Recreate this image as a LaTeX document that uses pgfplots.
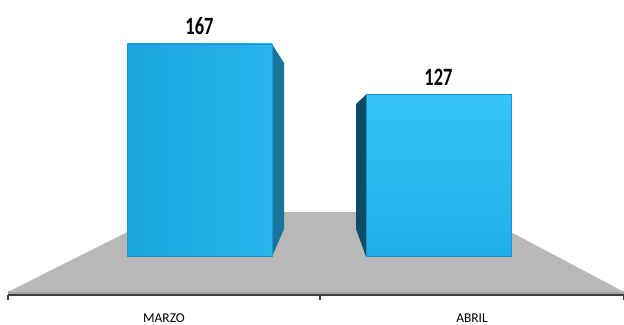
\documentclass[border=0pt]{standalone}
\usepackage{fontspec}
\setmainfont{Carlito}
\usepackage{pgfplots}
\pgfplotsset{compat=1.18}
\definecolor{floorgray}{HTML}{B8B8B8}
\definecolor{flooredge}{HTML}{A4A4A4}
\definecolor{axgray}{HTML}{404040}
\definecolor{sideA}{HTML}{15759C}
\definecolor{sideB}{HTML}{0E4C66}
\definecolor{barA1}{HTML}{1BA5DD}
\definecolor{barA2}{HTML}{25B5EB}
\definecolor{barB1}{HTML}{34C4F8}
\definecolor{barB2}{HTML}{1FAEE6}
\definecolor{baredge}{HTML}{1A95C8}
\begin{document}
\begin{tikzpicture}
\begin{axis}[
  scale only axis, width=616bp, height=295bp,
  xmin=8, xmax=624, ymin=-30.7, ymax=201.6,
  axis x line*=bottom, axis y line=none,
  x axis line style={line width=2.2bp, color=axgray},
  xtick={164,472}, xticklabels={MARZO,ABRIL},
  major tick length=0pt,
  minor xtick={8,320,624}, minor tick length=4.5bp,
  tick align=outside,
  minor tick style={line width=1.6bp, color=axgray},
  xticklabel style={font=\fontsize{13.5}{15}\selectfont, anchor=north, inner sep=0pt, yshift=-18.5bp},
  clip=false,
  /pgf/number format/assume math mode=true,
  nodes near coords={\scalebox{1}[1.35]{\bfseries\pgfmathprintnumber{\pgfplotspointmeta}}},
  nodes near coords style={font=\fontsize{18.5}{20}\selectfont\bfseries, anchor=south, inner sep=0pt, yshift=9bp, color=black},
]
% floor
\addplot[fill=flooredge, draw=none, nodes near coords={}] coordinates {(8,-29.9) (624,-29.9) (624,-27.6) (8,-27.6)} -- cycle;
\addplot[fill=floorgray, draw=none, nodes near coords={}] coordinates {(8,-28.3) (624,-28.3) (473,34.6) (167,34.6)} -- cycle;
% side faces
\addplot[fill=sideA, draw=none, nodes near coords={}] coordinates {(272,167) (284,152) (284,21.3) (272,-0.5)} -- cycle;
\addplot[fill=sideB, draw=none, nodes near coords={}] coordinates {(366,127) (356,119.7) (356,21.3) (366,-0.5)} -- cycle;
% front faces
\addplot[ybar, bar width=145, bar shift=0pt, left color=barA1, right color=barA2, draw=baredge, line width=0.6bp] coordinates {(199.5,167)};
\addplot[ybar, bar width=145, bar shift=0pt, top color=barB1, bottom color=barB2, draw=baredge, line width=0.6bp] coordinates {(438.5,127)};
\end{axis}
\pgfresetboundingbox
\path (current axis.south west) ++(-8bp,-30bp) rectangle (current axis.north east);
\end{tikzpicture}
\end{document}
